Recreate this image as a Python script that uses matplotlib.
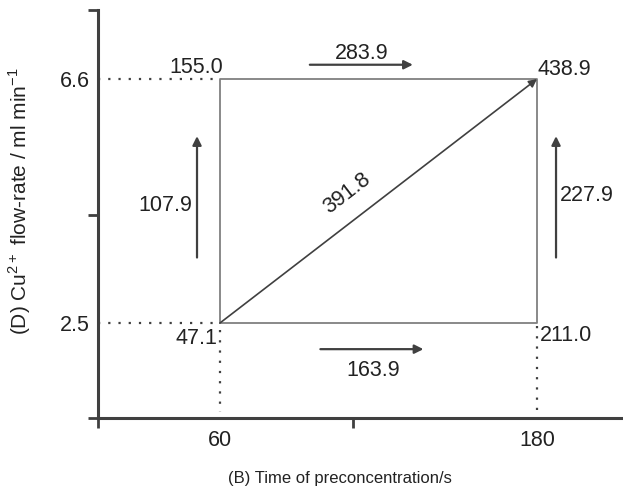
import numpy as np
import matplotlib.pyplot as plt

plt.rcParams['font.family'] = ['Liberation Sans', 'DejaVu Sans']
plt.rcParams['mathtext.fontset'] = 'custom'
plt.rcParams['mathtext.rm'] = 'Liberation Sans'

# factor levels
times = [60, 180]          # (B) time of preconcentration / s
flows = [2.5, 6.6]         # (D) Cu2+ flow-rate / ml min-1

# responses at the corners: (60,2.5), (180,2.5), (60,6.6), (180,6.6)
corner_vals = ["47.1", "211.0", "155.0", "438.9"]

# effects along the edges
eff_bottom = "163.9"
eff_top = "283.9"
eff_left = "107.9"
eff_right = "227.9"
eff_diag = "391.8"

dark = "#404040"
grey = "#808080"
txt = "#222222"

fig = plt.figure(figsize=(6.23, 4.87), dpi=100)
ax = fig.add_axes([98 / 623, 69 / 487, 525 / 623, 408 / 487])
xmin, xmax = 13.82, 212.55
ymin, ymax = 0.903, 7.76
ax.set_xlim(xmin, xmax)
ax.set_ylim(ymin, ymax)

x0, x1 = times
y0, y1 = flows

# square and diagonal
ax.plot([x0, x1, x1, x0, x0], [y0, y0, y1, y1, y0], color=grey, lw=1.3)
ax.annotate("", xy=(x1, y1), xytext=(x0, y0),
            arrowprops=dict(arrowstyle="-|>", color=dark, lw=1.2,
                            mutation_scale=12, shrinkA=0, shrinkB=0))

# dotted guides
dot = dict(color=dark, lw=1.6, ls=(0, (1, 3.6)))
for yv in flows:
    ax.plot([xmin, x0], [yv, yv], **dot)
ax.plot([x0, x0], [y0 - 0.12, 1.0], **dot)
ax.plot([x1, x1], [y0 - 0.05, 1.0], **dot)

# corner labels
fs = 15.5
ax.text(x0 - 1, y0 - 0.08, corner_vals[0], ha="right", va="top", fontsize=fs, color=txt)
ax.text(x1 + 1, y0 - 0.03, corner_vals[1], ha="left", va="top", fontsize=fs, color=txt)
ax.text(x0 + 1.2, y1 + 0.01, corner_vals[2], ha="right", va="bottom", fontsize=fs, color=txt)
ax.text(x1, y1 - 0.02, corner_vals[3], ha="left", va="bottom", fontsize=fs, color=txt)

arr = dict(arrowstyle="-|>", color=dark, lw=1.6, mutation_scale=13, shrinkA=0, shrinkB=0)
# bottom effect
ax.annotate("", xy=(x0 + 77, y0 - 0.44), xytext=(x0 + 38, y0 - 0.44), arrowprops=arr)
ax.text(x0 + 58, y0 - 0.62, eff_bottom, ha="center", va="top", fontsize=fs, color=txt)
# top effect
ax.annotate("", xy=(x0 + 73, y1 + 0.24), xytext=(x0 + 34, y1 + 0.24), arrowprops=arr)
ax.text(x0 + 53.5, y1 + 0.26, eff_top, ha="center", va="bottom", fontsize=fs, color=txt)
# left effect
ax.annotate("", xy=(x0 - 8.7, y1 - 0.96), xytext=(x0 - 8.7, y0 + 1.1), arrowprops=arr)
ax.text(x0 - 10.5, 4.48, eff_left, ha="right", va="center", fontsize=fs, color=txt)
# right effect
ax.annotate("", xy=(x1 + 7.2, y1 - 0.96), xytext=(x1 + 7.2, y0 + 1.1), arrowprops=arr)
ax.text(x1 + 8.5, 4.65, eff_right, ha="left", va="center", fontsize=fs, color=txt)
# diagonal effect
ax.text(108.1, 4.685, eff_diag, ha="center", va="center", rotation=37.6,
        fontsize=fs, color=txt, rotation_mode="anchor")

# axes styling
for s in ["top", "right"]:
    ax.spines[s].set_visible(False)
for s in ["left", "bottom"]:
    ax.spines[s].set_color(dark)
    ax.spines[s].set_linewidth(2.2)

ax.set_xticks(times)
ax.set_xticklabels(["60", "180"])
ax.set_yticks(flows)
ax.set_yticklabels(["2.5", "6.6"])
ax.tick_params(axis="both", which="major", length=0, labelsize=fs, colors=txt)
ax.tick_params(axis="x", which="major", pad=9)
ax.tick_params(axis="y", which="major", pad=6)
ax.set_xticks([xmin, 110.4], minor=True)
ax.set_yticks([ymin, 4.32, ymax], minor=True)
ax.tick_params(axis="both", which="minor", length=7, width=2, color=dark)

fig.text(340 / 623, 4 / 487, "(B) Time of preconcentration/s", ha="center", va="baseline",
         fontsize=12, color=txt)
fig.text(20 / 623, 1 - 201 / 487, r"(D) Cu$^{2+}$ flow-rate / ml min$^{-1}$", ha="center",
         va="center", rotation=90, fontsize=15, color=txt)

fig.savefig("out.png", dpi=100)
